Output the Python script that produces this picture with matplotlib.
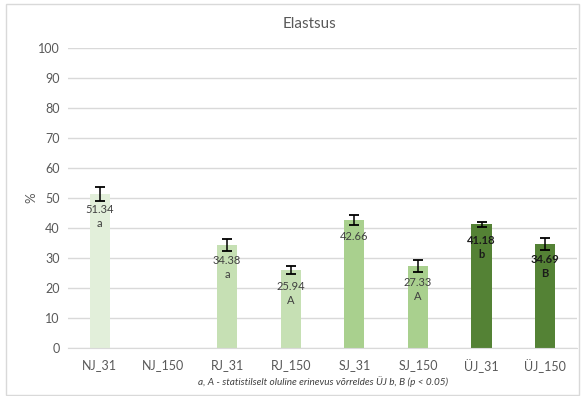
import matplotlib
matplotlib.use("Agg")
import matplotlib.pyplot as plt
from matplotlib.patches import Rectangle
import numpy as np

categories = ["NJ_31", "NJ_150", "RJ_31", "RJ_150", "SJ_31", "SJ_150", "ÜJ_31", "ÜJ_150"]
values = [51.34, np.nan, 34.38, 25.94, 42.66, 27.33, 41.18, 34.69]
errors = [2.4, np.nan, 2.0, 1.4, 1.6, 2.0, 0.9, 1.9]
letters = ["a", "", "a", "A", "", "A", "b", "B"]
colors = ["#e2efda", "#e2efda", "#c6e0b4", "#c6e0b4", "#a9d08e", "#a9d08e", "#548235", "#548235"]
yticks = [0, 10, 20, 30, 40, 50, 60, 70, 80, 90, 100]

plt.rcParams["font.family"] = ["Lato", "DejaVu Sans"]

fig = plt.figure(figsize=(5.84, 3.96), dpi=100)
fig.patches.append(Rectangle((6 / 584, 1 - 395 / 396), 573 / 584, 391 / 396,
                             transform=fig.transFigure, fill=False,
                             edgecolor="#d9d9d9", linewidth=1.0))

ax = fig.add_axes([68 / 584, 1 - 348 / 396, 509 / 584, 300 / 396])
x = np.arange(len(categories))
ax.bar(x, values, width=0.32, color=colors, zorder=2)
ax.errorbar(x, values, yerr=errors, fmt="none", ecolor="black",
            elinewidth=1.1, capsize=3.5, capthick=1.3, zorder=3)

for i, (v, letter) in enumerate(zip(values, letters)):
    if np.isnan(v):
        continue
    dark = categories[i].startswith("ÜJ")
    tcolor = "#1a1a1a" if dark else "#404040"
    weight = "bold" if dark else "normal"
    ax.annotate(f"{v:.2f}", (x[i], v), xytext=(0, -16), textcoords="offset pixels",
                ha="center", va="center", fontsize=8, color=tcolor, fontweight=weight, zorder=4)
    if letter:
        ax.annotate(letter, (x[i], v), xytext=(0, -30), textcoords="offset pixels",
                    ha="center", va="center", fontsize=8, color=tcolor, fontweight=weight, zorder=4)

ax.set_xlim(-0.5, len(categories) - 0.5)
ax.set_ylim(0, 100)
ax.set_yticks(yticks)
ax.set_xticks(x)
ax.set_xticklabels(categories)
ax.grid(axis="y", color="#d9d9d9", linewidth=1.0, zorder=0)
for s in ["top", "right", "left"]:
    ax.spines[s].set_visible(False)
ax.spines["bottom"].set_color("#d9d9d9")
ax.tick_params(axis="both", length=0, labelsize=9, colors="#595959", pad=6)
ax.tick_params(axis="x", pad=8)
ax.set_axisbelow(True)

fig.text(31 / 584, 1 - 198 / 396, "%", rotation=90, ha="center", va="center",
         fontsize=9.5, color="#595959")
fig.text(310 / 584, 1 - 24 / 396, "Elastsus", ha="center", va="center",
         fontsize=11, color="#595959")
fig.text(323 / 584, 1 - 382 / 396,
         "a, A - statistilselt oluline erinevus võrreldes ÜJ b, B (p < 0.05)",
         ha="center", va="center", fontsize=7.2, style="italic", color="#404040")

fig.savefig("out.png", dpi=100)
